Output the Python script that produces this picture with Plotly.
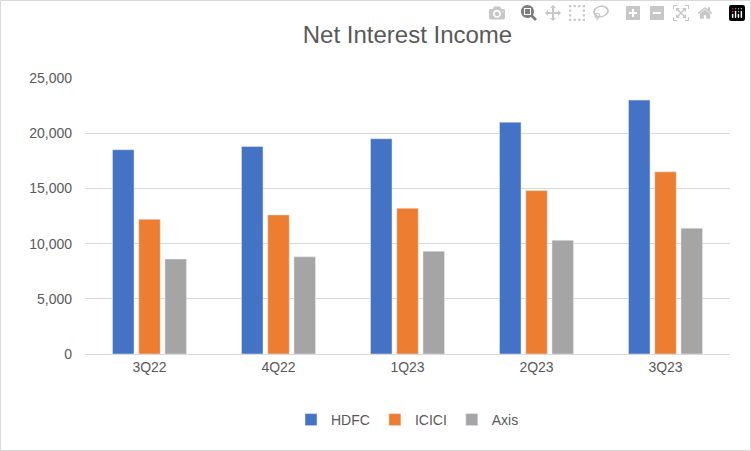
import plotly.graph_objects as go

quarters = ["3Q22", "4Q22", "1Q23", "2Q23", "3Q23"]
hdfc = [18500, 18800, 19500, 21000, 23000]
icici = [12200, 12600, 13200, 14800, 16500]
axis_bank = [8600, 8800, 9300, 10300, 11400]

fig = go.Figure()
fig.add_trace(go.Bar(x=quarters, y=hdfc, name="HDFC", marker_color="#4472C4"))
fig.add_trace(go.Bar(x=quarters, y=icici, name="ICICI", marker_color="#ED7D31"))
fig.add_trace(go.Bar(x=quarters, y=axis_bank, name="Axis", marker_color="#A5A5A5"))

W, H = 751, 451
ml, mr, mt, mb = 85, 21, 78, 97
pw, ph = W - ml - mr, H - mt - mb

fig.update_layout(
    width=W, height=H,
    margin=dict(l=ml, r=mr, t=mt, b=mb),
    paper_bgcolor="white", plot_bgcolor="white",
    font=dict(family="Liberation Sans, Arial", color="#595959", size=14),
    title=dict(text="Net Interest Income", x=0.5, xref="paper", y=1 - 35 / H,
               yanchor="middle", font=dict(size=24, color="#595959")),
    barmode="group", bargap=0.39, bargroupgap=0.18,
    showlegend=True,
    legend=dict(orientation="h", x=0.5, xanchor="center", y=-66 / ph, yanchor="middle",
                font=dict(size=14, color="#595959"), traceorder="normal",
                itemwidth=30),
    xaxis=dict(showgrid=False, showline=True, linecolor="#d9d9d9", ticks="",
               tickfont=dict(size=14)),
    yaxis=dict(range=[0, 25000], dtick=5000, tickformat=",", showgrid=True,
               gridcolor="#d9d9d9", zeroline=False, showline=False, ticks="",
               tickfont=dict(size=14), ticklabelstandoff=12),
    shapes=[dict(type="rect", xref="paper", yref="paper",
                 x0=(-ml + 0.5) / pw, x1=1 + (mr - 0.5) / pw,
                 y0=(-mb + 0.5) / ph, y1=1 + (mt - 0.5) / ph,
                 line=dict(color="#d9d9d9", width=1), layer="below")],
)

fig.write_html("out.html", post_script="document.body.style.margin='0';document.body.style.overflow='hidden';")
